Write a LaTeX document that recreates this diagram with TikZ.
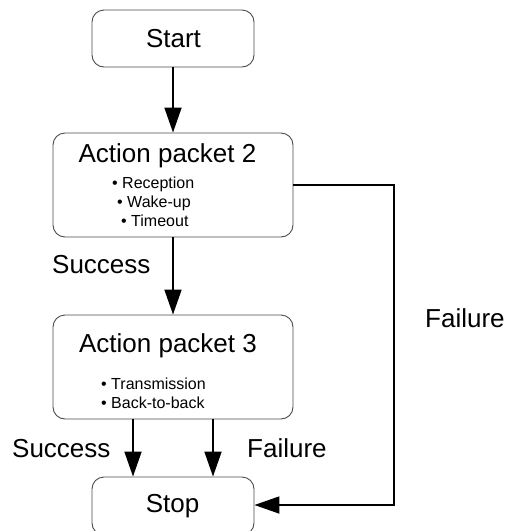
\documentclass[tikz,border=0pt]{standalone}
\usepackage{fontspec}
\setmainfont{Liberation Sans}
\usetikzlibrary{arrows.meta}
\tikzset{
  box/.style={draw=black!70, line width=0.9pt, rounded corners=12pt, inner sep=0pt, fill=white},
  big/.style={font=\fontsize{26}{30}\selectfont, inner sep=0pt},
  small/.style={font=\fontsize{16}{19}\selectfont, inner sep=0pt},
  conn/.style={line width=1.8pt, -{Triangle[length=25pt,width=17pt]}},
}
\begin{document}
\begin{tikzpicture}[x=1pt,y=-1pt]
\useasboundingbox (0,0) rectangle (505,531);
% boxes
\node[box, minimum width=162pt, minimum height=57pt] (start) at (173,38.5) {};
\node[box, minimum width=240pt, minimum height=104pt] (ap2) at (173,185) {};
\node[box, minimum width=240pt, minimum height=104pt] (ap3) at (173,367) {};
\node[box, minimum width=162pt, minimum height=58pt] (stop) at (173,506) {};
% texts
\node[big, anchor=base] (tstart) at (173.5,47) {Start};
\node[big, anchor=base] (tap2) at (167.5,162) {Action packet 2};
\node[small, anchor=base west] (b1) at (112,188) {\textbullet\ Reception};
\node[small, anchor=base west] (b2) at (117,207) {\textbullet\ Wake-up};
\node[small, anchor=base west] (b3) at (121,226) {\textbullet\ Timeout};
\node[big, anchor=base] (tap3) at (168,352) {Action packet 3};
\node[small, anchor=base west] (b4) at (101,389) {\textbullet\ Transmission};
\node[small, anchor=base west] (b5) at (101,408) {\textbullet\ Back-to-back};
\node[big, anchor=base] (tstop) at (172.5,512) {Stop};
% labels
\node[big, anchor=base west] (succ1) at (52,273) {Success};
\node[big, anchor=base west] (fail1) at (425,327) {Failure};
\node[big, anchor=base west] (succ2) at (12,457) {Success};
\node[big, anchor=base west] (fail2) at (247,457) {Failure};
% connectors
\coordinate (c1) at (394,185);
\coordinate (c2) at (394,505);
\draw[conn] (start.south) -- (ap2.north);
\draw[conn] (ap2.south) -- (ap3.north);
\draw[conn] (ap3.south -| 133,0) -- (stop.north -| 133,0);
\draw[conn] (ap3.south -| 213,0) -- (stop.north -| 213,0);
\draw[conn, rounded corners=0pt] (ap2.east) -- (c1) -- (c2) -- (stop.east |- c2);
\end{tikzpicture}
\end{document}
